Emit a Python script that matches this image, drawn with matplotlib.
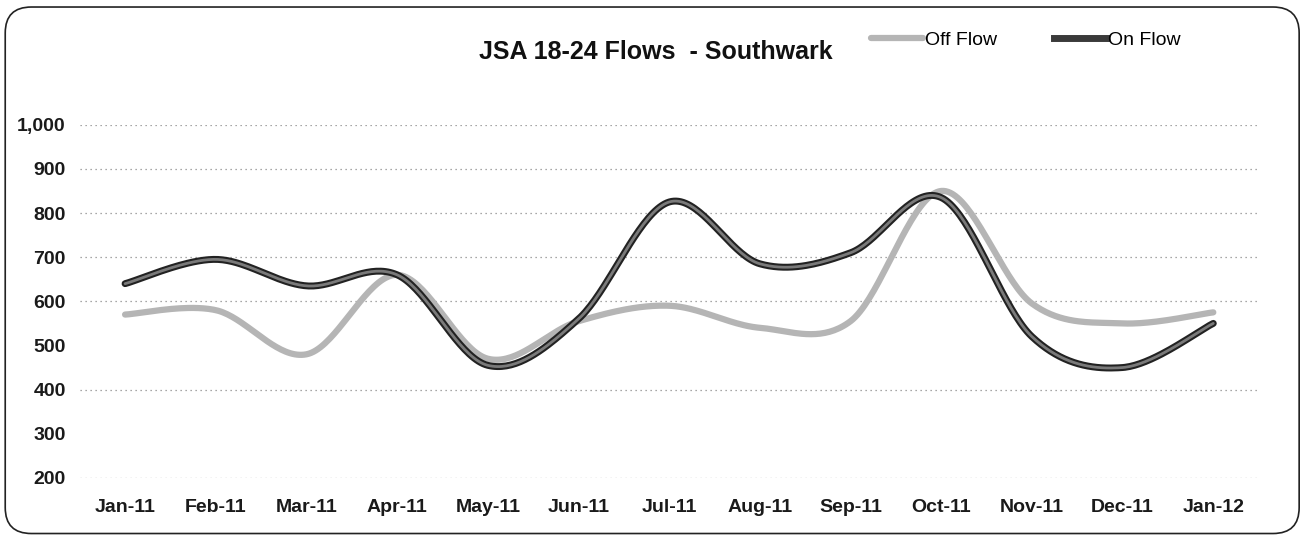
import numpy as np
import matplotlib.pyplot as plt
from matplotlib.patches import FancyBboxPatch

plt.rcParams['font.family'] = ['Liberation Sans', 'DejaVu Sans']

months = ['Jan-11', 'Feb-11', 'Mar-11', 'Apr-11', 'May-11', 'Jun-11', 'Jul-11',
          'Aug-11', 'Sep-11', 'Oct-11', 'Nov-11', 'Dec-11', 'Jan-12']
off_flow = [570, 580, 480, 660, 470, 555, 590, 540, 555, 850, 595, 550, 575]
on_flow = [640, 695, 635, 660, 455, 560, 825, 685, 710, 835, 520, 450, 550]
y_ticks = [200, 300, 400, 500, 600, 700, 800, 900, 1000]


def smooth(vals, n=40):
    # Excel-style smoothed line (Catmull-Rom through the points)
    p = np.column_stack([np.arange(len(vals)), np.asarray(vals, float)])
    ext = np.vstack([p[0], p, p[-1]])
    xs, ys = [], []
    t = np.linspace(0, 1, n)[:, None]
    for i in range(len(p) - 1):
        p0, p1, p2, p3 = ext[i], ext[i + 1], ext[i + 2], ext[i + 3]
        c1 = p1 + (p2 - p0) / 6
        c2 = p2 - (p3 - p1) / 6
        b = ((1 - t) ** 3) * p1 + 3 * ((1 - t) ** 2) * t * c1 + 3 * (1 - t) * t ** 2 * c2 + t ** 3 * p2
        xs.extend(b[:, 0])
        ys.extend(b[:, 1])
    return np.array(xs), np.array(ys)


fig = plt.figure(figsize=(13.07, 5.4), dpi=100)
ax = fig.add_axes([0.061, 0.115, 0.902, 0.654])

x, y = smooth(off_flow)
ax.plot(x, y, color='#b5b5b5', lw=4.5, solid_capstyle='round', label='Off Flow', zorder=3)
x, y = smooth(on_flow)
ax.plot(x, y, color='#222222', lw=5, solid_capstyle='round', zorder=4)
ax.plot(x, y, color='#7a7a7a', lw=2, solid_capstyle='round', zorder=5)
ax.plot([], [], color='#3a3a3a', lw=5, label='On Flow')

ax.set_xlim(-0.5, len(months) - 0.5)
ax.set_ylim(200, 1000)
ax.set_xticks(range(len(months)))
ax.set_xticklabels(months)
ax.set_yticks(y_ticks)
ax.set_yticklabels([f'{v:,}' for v in y_ticks])
ax.tick_params(length=0, labelsize=14)
ax.tick_params(axis='x', pad=15)
ax.tick_params(axis='y', pad=10)
for lab in ax.get_xticklabels() + ax.get_yticklabels():
    lab.set_fontweight('bold')
    lab.set_color('#1a1a1a')
for s in ax.spines.values():
    s.set_visible(False)

ax.yaxis.grid(True, linestyle=(0, (1, 3)), color='#8a8a8a', lw=0.9)
for v, gl in zip(y_ticks, ax.get_ygridlines()):
    if v in (300, 500):
        gl.set_visible(False)
ax.set_axisbelow(True)

fig.text(0.502, 0.903, 'JSA 18-24 Flows  - Southwark', ha='center', va='center',
         fontsize=18, fontweight='bold', color='#111111')

h, l = ax.get_legend_handles_labels()
fig.legend(h, l, loc='center', bbox_to_anchor=(0.785, 0.925), ncol=2, frameon=False,
           fontsize=14, handlelength=2.7, handletextpad=0.1, columnspacing=2.9)

frame = FancyBboxPatch((0.004, 0.012), 0.99, 0.975, transform=fig.transFigure,
                       boxstyle='round,pad=0,rounding_size=0.02', mutation_aspect=2.4,
                       fill=False, edgecolor='#222222', lw=1.2)
fig.patches.append(frame)

fig.savefig('out.png', dpi=100)
